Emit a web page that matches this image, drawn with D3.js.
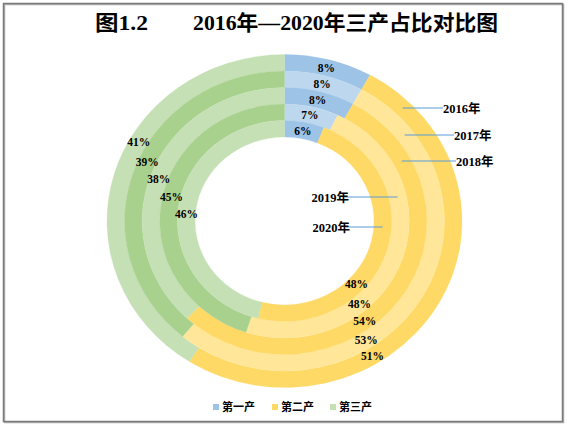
<!DOCTYPE html>
<html>
<head>
<meta charset="utf-8">
<script src="https://cdn.jsdelivr.net/npm/d3@7"></script>
<style>
  body { margin: 0; background: #fff; }
  text { font-family: 'Liberation Serif', 'Noto Sans CJK SC', serif; font-weight: bold; fill: #000; }
</style>
</head>
<body>
<svg id="chart" width="569" height="427"></svg>
<script>
// data (outer ring = 2016, inner ring = 2020)
const years = ['2016年', '2017年', '2018年', '2019年', '2020年']
const industries = ['第一产', '第二产', '第三产']
const primary = [8, 8, 8, 7, 6]
const secondary = [51, 53, 54, 48, 48]
const tertiary = [41, 39, 38, 45, 46]

// two shades per series, alternating ring by ring
const shades = [
  ['#9DC3E6', '#BDD7EE'],
  ['#FFD966', '#FFE699'],
  ['#C5E0B4', '#A9D18E'],
]
const legendColors = ['#9DC3E6', '#FFD966', '#C5E0B4']

// labels in the original were dragged off the arc centroid (degrees)
const labelNudge = [
  [0, 0, 0, 0, 0],
  [28, 23, 17, 28, 25],
  [14, 5, -2, 4, -3],
]
// series-name labels with leader lines
const yearLabels = [
  { x: 443, y: 108, side: 'right' },
  { x: 454, y: 135, side: 'right' },
  { x: 456, y: 161, side: 'right' },
  { x: 349, y: 197, side: 'left' },
  { x: 350, y: 227, side: 'left' },
]

const cx = 284.5
const cy = 221
const sy = 0.938
const outerR = 177.5
const innerR = 89.5

const svg = d3.select('#chart')

// frame
svg.append('rect')
  .attr('x', 4.5).attr('y', 4.5).attr('width', 559).attr('height', 418)
  .attr('fill', 'none').attr('stroke', '#b0b0b0').attr('stroke-width', 1.5)
svg.append('rect')
  .attr('x', 3.5).attr('y', 3.5).attr('width', 559).attr('height', 418)
  .attr('fill', 'none').attr('stroke', '#7a7a7a').attr('stroke-width', 1.5)

// title
svg.append('text')
  .attr('x', 95).attr('y', 30)
  .attr('font-size', 21)
  .attr('textLength', 53).attr('lengthAdjust', 'spacingAndGlyphs')
  .text('图1.2')
svg.append('text')
  .attr('x', 193).attr('y', 30)
  .attr('font-size', 21)
  .attr('textLength', 305).attr('lengthAdjust', 'spacingAndGlyphs')
  .text('2016年—2020年三产占比对比图')

const radius = d3.scaleLinear().domain([0, years.length]).range([outerR, innerR])
const pie = d3.pie().sort(null).value((d) => d)

const rings = years.map((y, i) => ({
  year: y,
  index: i,
  arcs: pie([primary[i], secondary[i], tertiary[i]]),
}))

const g = svg.append('g')
  .attr('transform', `translate(${cx},${cy}) scale(1,${sy})`)

rings.forEach((ring) => {
  const i = ring.index
  const arc = d3.arc().outerRadius(radius(i)).innerRadius(radius(i + 1))
  g.append('g')
    .selectAll('path')
    .data(ring.arcs)
    .join('path')
    .attr('d', arc)
    .attr('fill', (d, s) => shades[s][i % 2])
    .attr('stroke', (d, s) => shades[s][i % 2])
    .attr('stroke-width', 0.3)
})

// percentage labels
function toScreen(r, a) {
  return [cx + r * Math.sin(a), cy - r * Math.cos(a) * sy]
}

const labels = svg.append('g').attr('font-size', 11.5).attr('text-anchor', 'middle')
rings.forEach((ring) => {
  const i = ring.index
  const mid = (radius(i) + radius(i + 1)) / 2
  ring.arcs.forEach((d, s) => {
    const a = (d.startAngle + d.endAngle) / 2 + (labelNudge[s][i] * Math.PI) / 180
    const [x, y] = toScreen(mid, a)
    labels.append('text')
      .attr('x', x).attr('y', y).attr('dy', '0.36em')
      .text(d.value + '%')
  })
})

// year labels with leader lines to the middle of each ring
const yl = svg.append('g').attr('font-size', 12.5)
rings.forEach((ring) => {
  const i = ring.index
  const p = yearLabels[i]
  const mid = (radius(i) + radius(i + 1)) / 2
  const dy = (p.y - cy) / sy
  const ringX = cx + Math.sqrt(mid * mid - dy * dy)
  const x1 = p.side === 'right' ? ringX : p.x - 4
  const x2 = p.side === 'right' ? p.x : ringX
  yl.append('line')
    .attr('x1', x1).attr('x2', x2).attr('y1', p.y).attr('y2', p.y)
    .attr('stroke', '#5B9BD5').attr('stroke-width', 1)
  yl.append('text')
    .attr('x', p.x).attr('y', p.y).attr('dy', '0.36em')
    .attr('text-anchor', p.side === 'right' ? 'start' : 'end')
    .text(ring.year)
})

// legend
const legendX = [213, 272, 330]
const legend = svg.append('g').attr('font-size', 11)
industries.forEach((name, s) => {
  legend.append('rect')
    .attr('x', legendX[s]).attr('y', 404).attr('width', 6).attr('height', 6)
    .attr('fill', legendColors[s])
  legend.append('text')
    .attr('x', legendX[s] + 9).attr('y', 407).attr('dy', '0.36em')
    .text(name)
})
</script>
</body>
</html>
